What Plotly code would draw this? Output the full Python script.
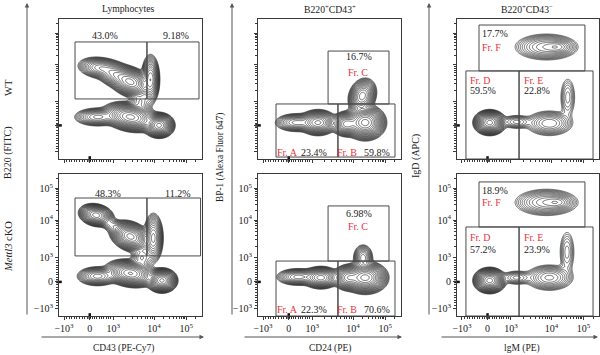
import numpy as np
import plotly.graph_objects as go

# ---------------- tick data (display units 0..100 on a biexponential axis) -------------
tick_text = ["−10<sup>3</sup>", "0", "10<sup>3</sup>", "10<sup>4</sup>", "10<sup>5</sup>"]
tick_values = [-1e3, 0.0, 1e3, 1e4, 1e5]
x_tick_pos = [3.5, 21.5, 38.0, 66.5, 89.0]
y_tick_pos = [5.5, 24.0, 41.0, 67.5, 90.0]

# ---------------- cell populations: (cx, cy, sx, sy, rho, amplitude) in display units ----
lymph_wt_pops = [
    (50, 55, 5.0, 3.8, -0.3, 1.00),
    (40, 60, 5.0, 3.5, -0.3, 0.35),
    (29, 65, 6.0, 3.0, -0.2, 0.22),
    (64, 57, 2.4, 6.5, 0.0, 0.30),
    (57, 41, 3.5, 4.0, 0.0, 0.06),
    (50, 30, 6.5, 3.6, -0.25, 1.00),
    (70, 24, 3.6, 3.0, 0.0, 1.00),
    (27, 30, 6.5, 2.6, 0.0, 0.15),
]
lymph_ko_pops = [
    (26, 71, 4.2, 2.8, -0.2, 0.60),
    (37, 64, 3.5, 2.6, -0.4, 0.06),
    (50, 56, 4.8, 3.7, -0.3, 1.00),
    (66, 55, 2.6, 6.5, 0.0, 0.25),
    (58, 41, 3.5, 4.0, 0.0, 0.06),
    (50, 30, 6.0, 3.3, -0.2, 0.90),
    (72, 25, 3.6, 2.9, 0.0, 0.95),
    (27, 28, 5.5, 2.6, 0.0, 0.20),
]
cd43p_wt_pops = [
    (42, 26, 4.6, 3.2, 0.0, 0.55),
    (27, 26, 6.0, 2.6, 0.0, 0.15),
    (75, 26, 4.8, 4.2, 0.0, 1.00),
    (62, 25, 3.8, 3.2, 0.0, 0.45),
    (73, 45, 3.6, 4.6, 0.2, 0.35),
]
cd43p_ko_pops = [
    (44, 27, 4.6, 2.8, 0.0, 0.45),
    (28, 27.5, 6.0, 2.4, 0.0, 0.15),
    (75, 27, 5.3, 3.8, 0.0, 1.00),
    (63, 27, 3.8, 3.2, 0.0, 0.45),
    (73.5, 41, 2.8, 3.8, 0.0, 0.12),
]
cd43n_wt_pops = [
    (23, 26, 3.8, 3.0, 0.0, 1.00),
    (42, 26.5, 5.0, 2.3, 0.0, 0.05),
    (65, 25.5, 7.0, 3.8, 0.0, 0.10),
    (78, 44, 2.8, 7.5, 0.0, 0.03),
    (63, 80, 9.5, 4.0, 0.0, 0.10),
    (71, 80, 4.5, 2.1, 0.0, 0.06),
]
cd43n_ko_pops = [
    (23, 25, 3.8, 3.0, 0.0, 1.00),
    (42, 27, 5.0, 2.3, 0.0, 0.05),
    (65, 27, 7.0, 3.8, 0.0, 0.11),
    (77.5, 45, 2.8, 8.0, 0.0, 0.03),
    (63, 80, 9.5, 4.0, 0.0, 0.10),
    (71, 80, 4.5, 2.1, 0.0, 0.06),
]

# ---------------- gates: (x0, x1, y0, y1) in display units ----------------------------
lymph_wt_gates = [(11.2, 61.5, 42.9, 83.6), (61.5, 97.9, 42.9, 83.6)]
lymph_ko_gates = [(11.2, 61.5, 42.3, 83.1), (61.5, 99.0, 42.3, 83.1)]
cd43p_wt_gates = [(49.0, 91.6, 39.3, 77.1), (12.6, 55.9, 1.4, 39.3), (55.9, 95.8, 1.4, 39.3)]
cd43p_ko_gates = [(49.0, 91.6, 38.7, 77.5), (12.6, 55.9, 0.0, 38.7), (55.9, 95.8, 0.0, 38.7)]
cd43n_wt_gates = [(15.5, 90.1, 62.9, 95.7), (6.3, 43.7, 0.0, 62.9), (43.7, 95.8, 0.0, 62.9)]
cd43n_ko_gates = [(15.5, 90.1, 62.7, 94.4), (6.3, 43.7, 0.0, 62.7), (43.7, 95.8, 0.0, 62.7)]

# ---------------- percentages -----------------------------------------------------------
lymph_wt_pct = ["43.0%", "9.18%"]
lymph_ko_pct = ["48.3%", "11.2%"]
cd43p_wt_pct = ["16.7%", "23.4%", "59.8%"]
cd43p_ko_pct = ["6.98%", "22.3%", "70.6%"]
cd43n_wt_pct = ["17.7%", "59.5%", "22.8%"]
cd43n_ko_pct = ["18.9%", "57.2%", "23.9%"]

col_titles = ["Lymphocytes", "B220<sup>+</sup>CD43<sup>+</sup>", "B220<sup>+</sup>CD43<sup>−</sup>"]
x_titles = ["CD43 (PE-Cy7)", "CD24 (PE)", "lgM (PE)"]
y_titles = ["B220 (FITC)", "BP-1 (Alexa Fluor 647)", "IgD (APC)"]
row_titles = ["WT", "<i>Mettl3</i> cKO"]

FONT = "Liberation Serif, Times New Roman, serif"
RED = "#e8333b"
TXT = "#222222"
W, H = 600, 355

col_px = [(59, 202), (258, 401), (457, 599)]
row_px = [(19, 159), (174, 316)]


def minor_positions(pos):
    m, z, p3, p4, p5 = pos
    out = []
    for k in range(1, 10):
        out.append(z + (p3 - z) * k / 10.0)
        out.append(z - (z - m) * k / 10.0)
    for k in range(2, 10):
        out.append(p3 + (p4 - p3) * np.log10(k))
        out.append(p4 + (p5 - p4) * np.log10(k))
    out.append(p5 + (p5 - p4) * np.log10(2))
    return [v for v in out if 0 < v < 100]


def density(pops, xs, ys):
    X, Y = np.meshgrid(xs, ys)
    D = np.zeros_like(X)
    for cx, cy, sx, sy, rho, a in pops:
        dx = (X - cx) / sx
        dy = (Y - cy) / sy
        q = (dx * dx - 2 * rho * dx * dy + dy * dy) / (1 - rho * rho)
        D += a * np.exp(-0.5 * q)
    return D


xs = np.linspace(0, 100, 251)
ys = np.linspace(0, 100, 251)

panels = [
    (lymph_wt_pops, lymph_wt_gates, 0, 0),
    (cd43p_wt_pops, cd43p_wt_gates, 0, 1),
    (cd43n_wt_pops, cd43n_wt_gates, 0, 2),
    (lymph_ko_pops, lymph_ko_gates, 1, 0),
    (cd43p_ko_pops, cd43p_ko_gates, 1, 1),
    (cd43n_ko_pops, cd43n_ko_gates, 1, 2),
]

fig = go.Figure()
shapes = []
annotations = []
layout_axes = {}

for i, (pops, gates, r, c) in enumerate(panels):
    n = i + 1
    xa = "x" if n == 1 else f"x{n}"
    ya = "y" if n == 1 else f"y{n}"
    D = density(pops, xs, ys)
    Z = np.log(D / D.max() + 1e-12)
    fig.add_trace(go.Contour(
        x=xs, y=ys, z=Z, xaxis=xa, yaxis=ya,
        contours=dict(coloring="lines", start=-5.0, end=-0.12, size=0.27),
        colorscale=[[0, "#111111"], [1, "#111111"]],
        line=dict(width=0.6, smoothing=1.0),
        showscale=False, hoverinfo="skip",
    ))
    # piled-up events at the zero channel of each axis
    fig.add_trace(go.Scatter(
        x=[x_tick_pos[1], 0.0], y=[0.0, y_tick_pos[1]], xaxis=xa, yaxis=ya,
        mode="markers", cliponaxis=False, hoverinfo="skip",
        marker=dict(symbol=["line-ns", "line-ew"], size=4,
                    line=dict(color="#111111", width=2.5)),
    ))
    x0p, x1p = col_px[c]
    y0p, y1p = row_px[r]
    show_labels = (r == 1)
    common = dict(
        range=[0, 100], showgrid=False, zeroline=False, showline=True, mirror=True,
        linecolor="#3a3a3a", linewidth=1, ticks="outside", ticklen=3, tickwidth=1,
        tickcolor="#3a3a3a", tickmode="array", automargin=False,
        tickfont=dict(family=FONT, size=10, color=TXT),
    )
    layout_axes["xaxis" if n == 1 else f"xaxis{n}"] = dict(
        common, domain=[x0p / W, x1p / W], anchor=ya,
        tickvals=x_tick_pos, ticktext=tick_text, showticklabels=show_labels,
        minor=dict(tickmode="array", tickvals=minor_positions(x_tick_pos), ticklen=2,
                   ticks="outside", tickcolor="#3a3a3a", tickwidth=0.8),
    )
    layout_axes["yaxis" if n == 1 else f"yaxis{n}"] = dict(
        common, domain=[1 - y1p / H, 1 - y0p / H], anchor=xa,
        tickvals=y_tick_pos, ticktext=tick_text, showticklabels=show_labels,
        minor=dict(tickmode="array", tickvals=minor_positions(y_tick_pos), ticklen=2,
                   ticks="outside", tickcolor="#3a3a3a", tickwidth=0.8),
    )
    for (gx0, gx1, gy0, gy1) in gates:
        shapes.append(dict(type="rect", xref=xa, yref=ya, x0=gx0, x1=gx1, y0=gy0, y1=gy1,
                           line=dict(color="#4a4a4a", width=1)))


def ann(xa, ya, x, y, text, color=TXT, xanchor="center", size=10):
    annotations.append(dict(xref=xa, yref=ya, x=x, y=y, text=text, showarrow=False,
                            xanchor=xanchor, yanchor="middle",
                            font=dict(family=FONT, size=size, color=color)))


# panel 1 and 4 (lymphocytes)
ann("x", "y", 32.2, 87.9, lymph_wt_pct[0])
ann("x", "y", 81.8, 87.9, lymph_wt_pct[1])
ann("x4", "y4", 34.3, 86.6, lymph_ko_pct[0])
ann("x4", "y4", 83.2, 86.6, lymph_ko_pct[1])
# panel 2 and 5
for xa, ya, pct, ytop, yc in [("x2", "y2", cd43p_wt_pct, 72.9, 62.1), ("x5", "y5", cd43p_ko_pct, 72.5, 62.7)]:
    ann(xa, ya, 70.6, ytop, pct[0])
    ann(xa, ya, 69.9, yc, "Fr. C", RED)
    ann(xa, ya, 20.3, 4.5, "Fr. A", RED)
    ann(xa, ya, 39.2, 4.5, pct[1])
    ann(xa, ya, 62.2, 4.5, "Fr. B", RED)
    ann(xa, ya, 83.2, 4.5, pct[2])
# panel 3 and 6
for xa, ya, pct, yf1, yf2, yd1, yd2 in [("x3", "y3", cd43n_wt_pct, 90.0, 80.0, 56.4, 48.6),
                                         ("x6", "y6", cd43n_ko_pct, 88.7, 79.6, 55.6, 46.5)]:
    ann(xa, ya, 16.0, yf1, pct[0], xanchor="left")
    ann(xa, ya, 16.0, yf2, "Fr. F", RED, xanchor="left")
    ann(xa, ya, 7.6, yd1, "Fr. D", RED, xanchor="left")
    ann(xa, ya, 7.6, yd2, pct[1], xanchor="left")
    ann(xa, ya, 45.6, yd1, "Fr. E", RED, xanchor="left")
    ann(xa, ya, 45.6, yd2, pct[2], xanchor="left")


def pann(xp, yp, text, angle=0, size=10.5):
    annotations.append(dict(xref="paper", yref="paper", x=xp / W, y=1 - yp / H, text=text,
                            showarrow=False, textangle=angle, xanchor="center", yanchor="middle",
                            font=dict(family=FONT, size=size, color=TXT)))


for (cx, title) in zip([128, 330, 527], col_titles):
    pann(cx, 9, title, size=9.7)
for (cx, title) in zip([124, 330, 522], x_titles):
    pann(cx, 348, title, size=9.5)
for (cx, cy, title, sz) in zip([8, 220, 416], [153, 157, 156], y_titles, [10, 9.4, 10]):
    pann(cx, cy, title, angle=-90, size=sz)
pann(8, 88, row_titles[0], angle=-90)
pann(8, 247, row_titles[1], angle=-90)

# axis arrows
arrow_style = dict(showarrow=True, arrowhead=2, arrowsize=0.9, arrowwidth=1,
                   arrowcolor="#555555", text="", xref="paper", yref="paper")
for vx in [27, 232, 429]:
    annotations.append(dict(arrow_style, x=vx / W, y=1 - 3 / H, ax=0, ay=313))
for hx0, hx1 in [(40, 204), (243, 402), (440, 598)]:
    annotations.append(dict(arrow_style, x=hx1 / W, y=1 - 337 / H, ax=-(hx1 - hx0), ay=0))

fig.update_layout(
    width=W, height=H, margin=dict(l=0, r=0, t=0, b=0),
    paper_bgcolor="white", plot_bgcolor="white", showlegend=False,
    shapes=shapes, annotations=annotations, **layout_axes,
)
fig.write_html("out.html", config={"displayModeBar": False},
               post_script="document.body.style.margin='0';document.body.style.overflow='hidden';")
